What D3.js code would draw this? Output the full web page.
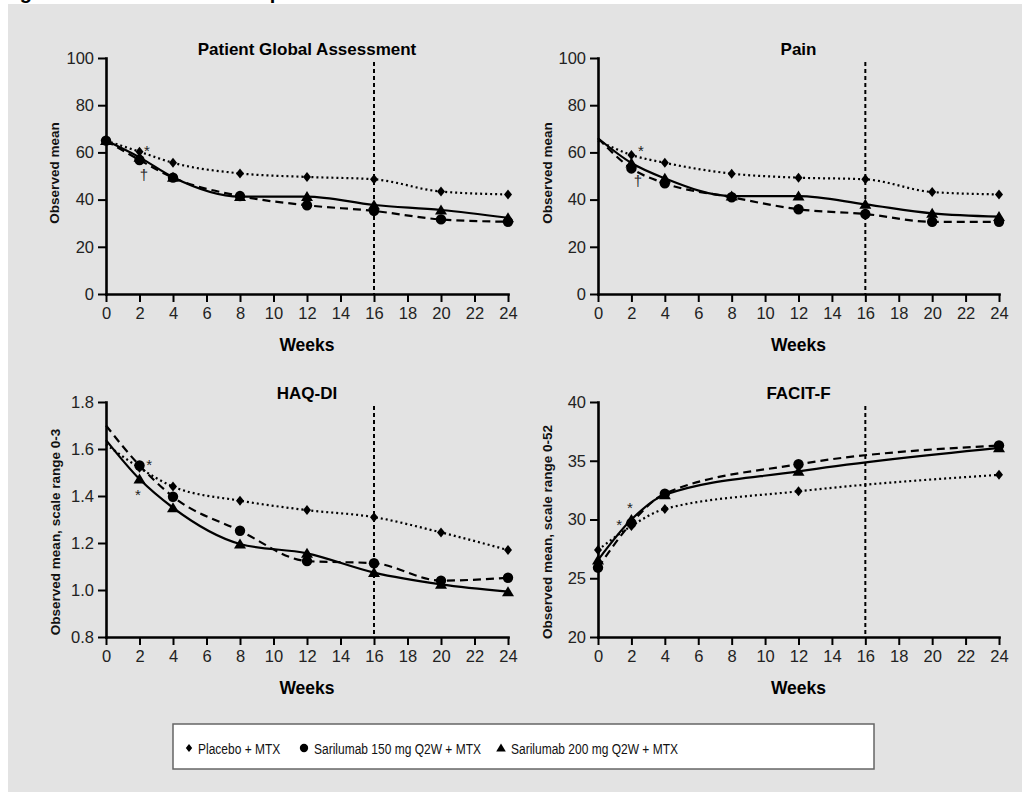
<!DOCTYPE html>
<html>
<head>
<meta charset="utf-8">
<script src="https://cdn.jsdelivr.net/npm/d3@7"></script>
<style>
  body { margin: 0; background: #fff; }
  svg { display: block; font-family: "Liberation Sans", Arial, sans-serif; }
</style>
</head>
<body>
<svg id="chart" width="1022" height="792"></svg>
<script>
// weeks on the x axis
const weeks = [0, 2, 4, 8, 12, 16, 20, 24];
const facitWeeks = [0, 2, 4, 12, 24];
const xTicks = [0, 2, 4, 6, 8, 10, 12, 14, 16, 18, 20, 22, 24];
const groups = ["Placebo + MTX", "Sarilumab 150 mg Q2W + MTX", "Sarilumab 200 mg Q2W + MTX"];

// Patient Global Assessment
const pgaPlacebo = [65, 60.3, 55.6, 51.1, 49.6, 48.6, 43.4, 42.2];
const pga150 = [65, 56.8, 49.3, 41.5, 37.6, 35.2, 31.6, 30.6];
const pga200 = [65, 57.9, 49.5, 41.3, 41.3, 37.7, 35.6, 32.3];
// Pain
const painPlacebo = [65, 58.9, 55.6, 51.0, 49.3, 48.6, 43.2, 42.2];
const pain150 = [66, 53.2, 46.9, 41.0, 35.9, 33.9, 30.6, 30.6];
const pain200 = [66, 55.5, 49.0, 41.5, 41.5, 38.0, 34.2, 32.8];
// HAQ-DI
const haqPlacebo = [1.62, 1.52, 1.44, 1.38, 1.34, 1.31, 1.245, 1.17];
const haq150 = [1.70, 1.53, 1.397, 1.252, 1.123, 1.114, 1.04, 1.052];
const haq200 = [1.638, 1.472, 1.35, 1.196, 1.156, 1.074, 1.024, 0.993];
// FACIT-F
const facitPlacebo = [27.4, 29.45, 30.9, 32.4, 33.8];
const facit150 = [25.9, 29.7, 32.2, 34.7, 36.3];
const facit200 = [26.55, 30.0, 32.1, 34.1, 36.1];

// significance marks [week, value, glyph]
const pgaNotes = [[2.45, 61.9, "*"], [2.27, 50.4, "†"]];
const painNotes = [[2.57, 61.9, "*"], [2.39, 47.5, "†"]];
const haqNotes = [[2.57, 1.545, "*"], [1.91, 1.421, "*"]];
const facitNotes = [[1.26, 29.8, "*"], [1.91, 31.3, "*"]];

const svg = d3.select("#chart");

svg.append("rect")
    .attr("x", 8).attr("y", 4)
    .attr("width", 1014).attr("height", 788)
    .attr("fill", "#e3e3e3");

// figure caption, cut off by the top of the page
svg.append("text")
    .attr("x", 2).attr("y", -1)
    .attr("font-size", 20).attr("font-weight", "bold")
    .text("Figure 3: Observed Mean Improvements in PROs");

const diamond = "M0,-5L4,0L0,5L-4,0Z";
const triangle = "M0,-5.5L6,4.5L-6,4.5Z";

const styles = [
    { dash: "2,3", shape: "diamond" },
    { dash: "8,5", shape: "circle" },
    { dash: null, shape: "triangle" }
];

function drawMarker(g, shape, cx, cy, scale = 1) {
    if (shape === "circle") {
        g.append("circle").attr("cx", cx).attr("cy", cy).attr("r", 5.2 * scale).attr("fill", "#000");
    } else {
        g.append("path")
            .attr("d", shape === "diamond" ? diamond : triangle)
            .attr("transform", `translate(${cx},${cy}) scale(${scale})`)
            .attr("fill", "#000");
    }
}

const panels = [
    { title: "Patient Global Assessment", yLabel: "Observed mean", domain: [0, 100],
      ticks: [0, 20, 40, 60, 80, 100], fmt: d3.format("d"),
      left: 106, right: 508, top: 58, bottom: 294, labelX: 54, labelY: 173,
      weeks: weeks, values: [pgaPlacebo, pga150, pga200], markAtZero: true, notes: pgaNotes },
    { title: "Pain", yLabel: "Observed mean", domain: [0, 100],
      ticks: [0, 20, 40, 60, 80, 100], fmt: d3.format("d"),
      left: 598, right: 999, top: 58, bottom: 294, labelX: 547, labelY: 173,
      weeks: weeks, values: [painPlacebo, pain150, pain200], markAtZero: false, notes: painNotes },
    { title: "HAQ-DI", yLabel: "Observed mean, scale range 0-3", domain: [0.8, 1.8],
      ticks: [0.8, 1.0, 1.2, 1.4, 1.6, 1.8], fmt: d3.format(".1f"),
      left: 106, right: 508, top: 402, bottom: 637, labelX: 55, labelY: 532,
      weeks: weeks, values: [haqPlacebo, haq150, haq200], markAtZero: false, notes: haqNotes },
    { title: "FACIT-F", yLabel: "Observed mean, scale range 0-52", domain: [20, 40],
      ticks: [20, 25, 30, 35, 40], fmt: d3.format("d"),
      left: 598, right: 999, top: 402, bottom: 637, labelX: 547, labelY: 532,
      weeks: facitWeeks, values: [facitPlacebo, facit150, facit200], markAtZero: true, notes: facitNotes }
];

panels.forEach(p => {
    const x = d3.scaleLinear().domain([0, 24]).range([p.left, p.right]);
    const y = d3.scaleLinear().domain(p.domain).range([p.bottom, p.top]);
    const g = svg.append("g");

    // week 16 reference line
    g.append("line")
        .attr("x1", x(16)).attr("x2", x(16))
        .attr("y1", p.top + 4).attr("y2", p.bottom)
        .attr("stroke", "#000").attr("stroke-width", 2)
        .attr("stroke-dasharray", "4,3");

    const line = d3.line()
        .x(d => x(d[0]))
        .y(d => y(d[1]))
        .curve(d3.curveMonotoneX);

    p.values.forEach((vals, i) => {
        const pts = p.weeks.map((w, j) => [w, vals[j]]);
        g.append("path")
            .attr("d", line(pts))
            .attr("fill", "none")
            .attr("stroke", "#000")
            .attr("stroke-width", 2.2)
            .attr("stroke-dasharray", styles[i].dash);
    });

    p.values.forEach((vals, i) => {
        p.weeks.forEach((w, j) => {
            if (w === 0 && !p.markAtZero) return;
            drawMarker(g, styles[i].shape, x(w), y(vals[j]));
        });
    });

    // axes
    const yAxis = d3.axisLeft(y).tickValues(p.ticks).tickFormat(p.fmt)
        .tickSize(8).tickPadding(4).tickSizeOuter(0);
    const xAxis = d3.axisBottom(x).tickValues(xTicks).tickFormat(d3.format("d"))
        .tickSize(8).tickPadding(5).tickSizeOuter(0);

    [g.append("g").attr("transform", `translate(${p.left},0)`).call(yAxis),
     g.append("g").attr("transform", `translate(0,${p.bottom})`).call(xAxis)]
        .forEach(a => {
            a.select(".domain").attr("stroke-width", 2.6).attr("stroke-linecap", "square");
            a.selectAll(".tick line").attr("stroke-width", 2);
            a.selectAll(".tick text")
                .attr("font-size", 16.5)
                .attr("fill", "#222")
                .attr("font-family", "Liberation Sans, Arial, sans-serif");
        });

    g.append("text")
        .attr("x", (p.left + p.right) / 2).attr("y", p.top - 3.5)
        .attr("text-anchor", "middle")
        .attr("font-size", 17).attr("font-weight", "bold")
        .text(p.title);

    g.append("text")
        .attr("x", (p.left + p.right) / 2).attr("y", p.bottom + 57)
        .attr("text-anchor", "middle")
        .attr("font-size", 17.5).attr("font-weight", "bold")
        .text("Weeks");

    g.append("text")
        .attr("transform", `translate(${p.labelX},${p.labelY}) rotate(-90)`)
        .attr("text-anchor", "middle")
        .attr("dy", "0.35em")
        .attr("font-size", 13.5).attr("font-weight", "bold")
        .attr("fill", "#111")
        .text(p.yLabel);

    p.notes.forEach(n => {
        g.append("text")
            .attr("x", x(n[0])).attr("y", y(n[1]))
            .attr("dy", n[2] === "*" ? "0.57em" : "0.3em")
            .attr("text-anchor", "middle")
            .attr("font-size", 15)
            .attr("fill", "#222")
            .text(n[2]);
    });
});

// legend
const legendX = [189, 304, 501];
const legendTextX = [198, 314, 511];
const lg = svg.append("g");
lg.append("rect")
    .attr("x", 173).attr("y", 724)
    .attr("width", 701).attr("height", 45)
    .attr("fill", "#fff")
    .attr("stroke", "#666").attr("stroke-width", 1.5);

groups.forEach((name, i) => {
    drawMarker(lg, styles[i].shape, legendX[i], 748, 0.8);
    // narrow lettering, as in the reference legend
    lg.append("text")
        .attr("transform", `translate(${legendTextX[i]},754) scale(0.8,1)`)
        .attr("font-size", 15)
        .attr("fill", "#111")
        .text(name);
});
</script>
</body>
</html>
